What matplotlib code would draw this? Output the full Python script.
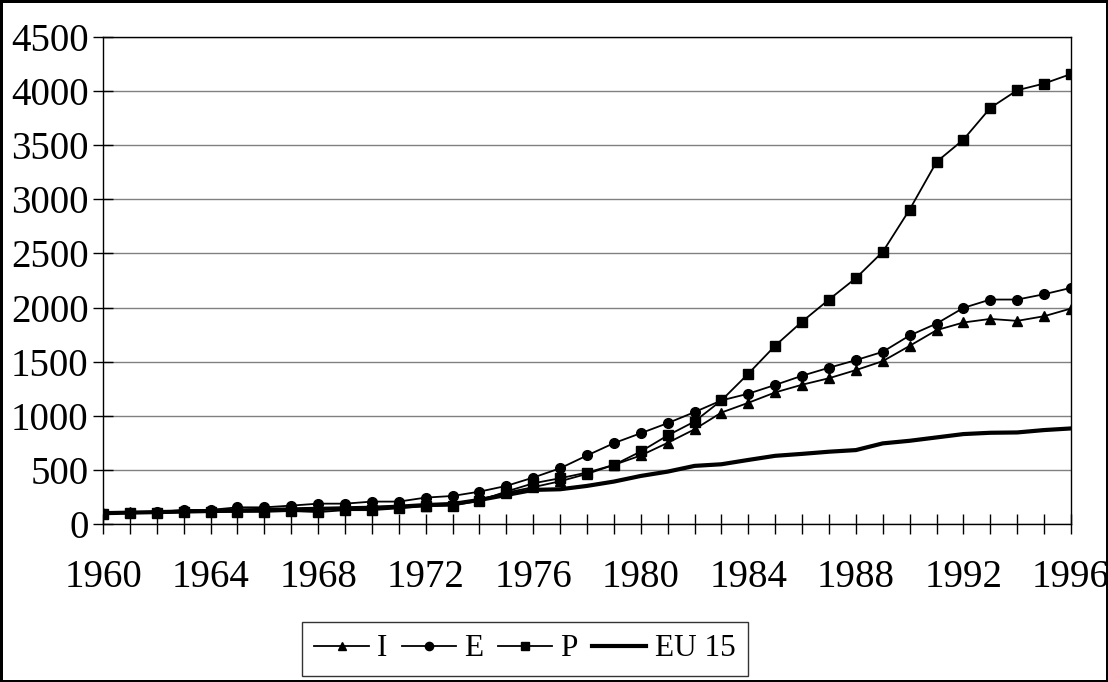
import numpy as np
import matplotlib.pyplot as plt

years = np.arange(1960, 1997)

# Werte
serie_i = [100, 110, 110, 120, 120, 125, 125, 130, 135, 140, 140, 155, 170, 175,
           225, 290, 340, 395, 463, 546, 633, 750, 875, 1030, 1120, 1216, 1287, 1347,
           1422, 1505, 1646, 1791, 1862, 1895, 1877, 1920, 1991]
serie_e = [95, 105, 110, 130, 130, 154, 154, 170, 188, 188, 207, 207, 244, 259,
           299, 352, 429, 515, 633, 747, 839, 932, 1034, 1142, 1204, 1285, 1370, 1444,
           1514, 1591, 1742, 1852, 1997, 2074, 2074, 2123, 2182]
serie_p = [95, 105, 100, 110, 110, 112, 112, 120, 110, 128, 128, 145, 165, 170,
           215, 300, 376, 423, 475, 546, 670, 818, 947, 1142, 1389, 1648, 1870, 2074,
           2272, 2515, 2906, 3346, 3552, 3845, 4008, 4070, 4158]
serie_eu = [100, 105, 110, 115, 120, 125, 130, 135, 140, 145, 150, 160, 175, 185,
            222, 268, 315, 321, 352, 392, 444, 484, 537, 552, 592, 630, 648, 668,
            683, 745, 769, 800, 831, 843, 846, 868, 883]

plt.rcParams['font.family'] = ['Liberation Serif', 'DejaVu Serif']
fs = 28
fs_leg = 22.5

fig = plt.figure(figsize=(11.08, 6.82), dpi=100)
fig.patch.set_edgecolor('black')
fig.patch.set_linewidth(2.5)
ax = fig.add_axes([103 / 1108, 1 - 524 / 682, 968 / 1108, 487 / 682])

ax.plot(years, serie_i, '-^', color='black', lw=1.3, ms=7, label='I')
ax.plot(years, serie_e, '-o', color='black', lw=1.3, ms=7, label='E')
ax.plot(years, serie_p, '-s', color='black', lw=1.3, ms=6.5, label='P')
ax.plot(years, serie_eu, '-', color='black', lw=3, label='EU 15')

ax.set_xlim(1960, 1996)
ax.set_ylim(0, 4500)
ax.set_yticks(np.arange(0, 4501, 500))
ax.set_xticks(np.arange(1960, 1997, 4))
ax.set_xticks(years, minor=True)
ax.grid(axis='y', color='#808080', lw=1)
ax.set_axisbelow(True)

ax.tick_params(axis='y', which='major', direction='inout', length=14, width=1,
               labelsize=fs, pad=3.5)
ax.tick_params(axis='x', which='both', direction='inout', length=14, width=1,
               labelsize=fs, pad=18)
for s in ax.spines.values():
    s.set_linewidth(1)

leg = fig.legend(loc='center', bbox_to_anchor=(525 / 1108, 1 - 649 / 682), ncol=4,
                 fontsize=fs_leg, frameon=True, fancybox=False, edgecolor='black',
                 handlelength=1.73, handletextpad=0.28, columnspacing=0.45,
                 markerscale=0.85, borderpad=0.4, borderaxespad=0)
leg.get_frame().set_linewidth(1)

fig.savefig('out.png', dpi=100)
